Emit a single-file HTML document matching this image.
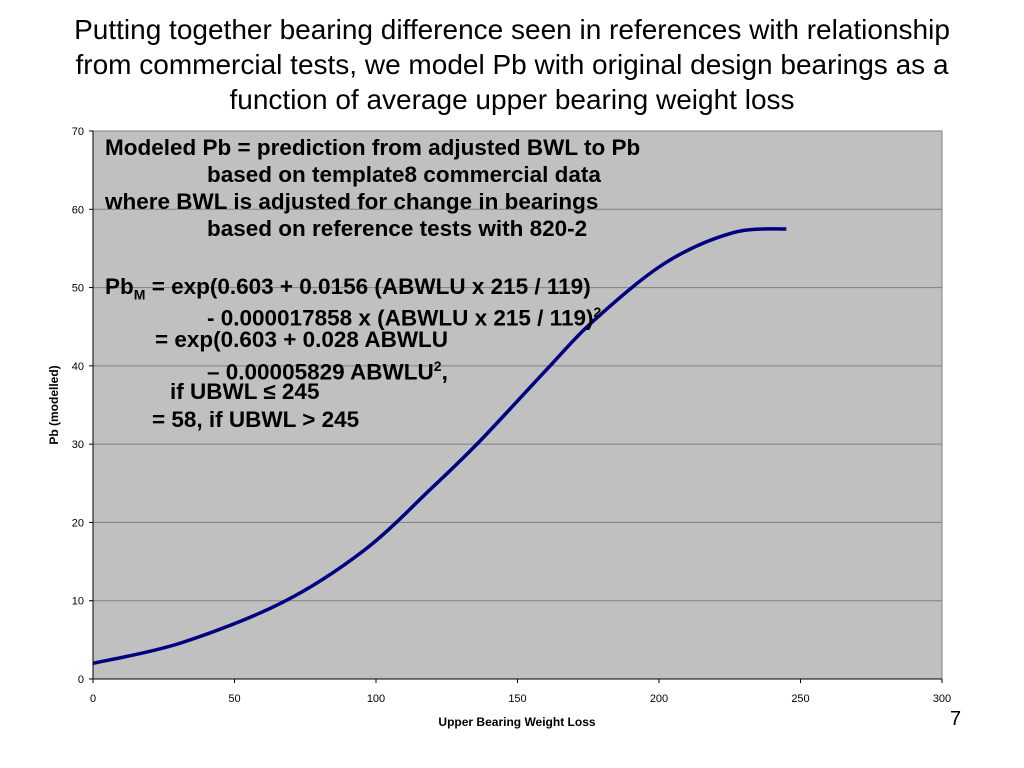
<!DOCTYPE html>
<html><head><meta charset="utf-8"><style>
body{margin:0;background:#fff;width:1024px;height:768px;overflow:hidden;font-family:"Liberation Sans",sans-serif}
.title{position:absolute;left:0;width:1024px;top:12px;text-align:center;font-size:28px;line-height:35px;color:#000;white-space:nowrap}
.note{position:absolute;font-weight:bold;font-size:22.5px;line-height:24px;white-space:nowrap;color:#000}
</style></head><body>
<div class="title">Putting together bearing difference seen in references with relationship<br>from commercial tests, we model Pb with original design bearings as a<br>function of average upper bearing weight loss</div>
<svg id="chart" width="1024" height="768" style="position:absolute;left:0;top:0"></svg>
<div class="note" style="left:105px;top:136px">Modeled Pb = prediction from adjusted BWL to Pb</div>
<div class="note" style="left:207px;top:163px">based on template8 commercial data</div>
<div class="note" style="left:105px;top:190px">where BWL is adjusted for change in bearings</div>
<div class="note" style="left:207px;top:217px">based on reference tests with 820-2</div>
<div class="note" style="left:105px;top:275px">Pb<sub style="font-size:14px">M</sub> = exp(0.603 + 0.0156 (ABWLU x 215 / 119)</div>
<div class="note" style="left:207px;top:300px">- 0.000017858 x (ABWLU x 215 / 119)<sup style="font-size:14px">2</sup></div>
<div class="note" style="left:155px;top:328px">= exp(0.603 + 0.028 ABWLU</div>
<div class="note" style="left:207px;top:354px">– 0.00005829 ABWLU<sup style="font-size:14px">2</sup>,</div>
<div class="note" style="left:170px;top:380px">if UBWL ≤ 245</div>
<div class="note" style="left:152px;top:408px">= 58, if UBWL &gt; 245</div>
<div style="position:absolute;left:950px;top:708px;font-size:20px">7</div>
<script>
const xTicks=[0,50,100,150,200,250,300];
const yTicks=[0,10,20,30,40,50,60,70];
const xVals=[0,31,67,96,120,137,161,177,202,226,245];
const yVals=[2.0,4.6,9.8,16.5,24.5,30.5,39.8,45.8,53.1,57.0,57.5];
const L=93,R=942,T=131,B=679;
const sx=v=>L+(v-0)/(300)*(R-L);
const sy=v=>B-(v/70)*(B-T);
const svg=document.getElementById('chart');
const NS='http://www.w3.org/2000/svg';
function mk(t,a){const e=document.createElementNS(NS,t);for(const k in a)e.setAttribute(k,a[k]);svg.appendChild(e);return e;}
const bg=mk('rect',{x:L,y:T,width:R-L,height:B-T,fill:'#c0c0c0',stroke:'#808080'});


yTicks.forEach(v=>{
 const g=mk('line',{x1:L,x2:R,y1:sy(v),y2:sy(v),stroke:'#808080','stroke-width':1});
 
 
 mk('line',{x1:L-4,x2:L,y1:sy(v),y2:sy(v),stroke:'#000'});
 const t=mk('text',{x:L-9,y:sy(v)+4,'text-anchor':'end','font-size':11,'font-family':'Liberation Sans'});
 t.textContent=v;
 
 
});
xTicks.forEach(v=>{
 mk('line',{x1:sx(v),x2:sx(v),y1:B,y2:B+4,stroke:'#000'});
 const t=mk('text',{x:sx(v),y:B+23,'text-anchor':'middle','font-size':11,'font-family':'Liberation Sans'});
 t.textContent=v;
 
 
});
mk('line',{x1:L,x2:L,y1:T,y2:B,stroke:'#000'});
mk('line',{x1:L,x2:R,y1:B,y2:B,stroke:'#000'});
const xt=mk('text',{x:517,y:726,'text-anchor':'middle','font-size':12,'font-weight':'bold','font-family':'Liberation Sans'});
xt.textContent='Upper Bearing Weight Loss';


const yt=mk('text',{x:0,y:0,'text-anchor':'middle','font-size':12,'font-weight':'bold','font-family':'Liberation Sans',transform:'translate(58,405) rotate(-90)'});
yt.textContent='Pb (modelled)';


// smooth curve via Catmull-Rom
const pts=xVals.map((x,i)=>[sx(x),sy(yVals[i])]);
let d='M'+pts[0][0]+','+pts[0][1];
for(let i=0;i<pts.length-1;i++){
 const p0=pts[i-1]||pts[i],p1=pts[i],p2=pts[i+1],p3=pts[i+2]||p2;
 const c1=[p1[0]+(p2[0]-p0[0])/6,p1[1]+(p2[1]-p0[1])/6];
 const c2=[p2[0]-(p3[0]-p1[0])/6,p2[1]-(p3[1]-p1[1])/6];
 d+=` C${c1[0]},${c1[1]} ${c2[0]},${c2[1]} ${p2[0]},${p2[1]}`;
}
const line=mk('path',{d:d,fill:'none',stroke:'#000080','stroke-width':3.5});


</script>
</body></html>
